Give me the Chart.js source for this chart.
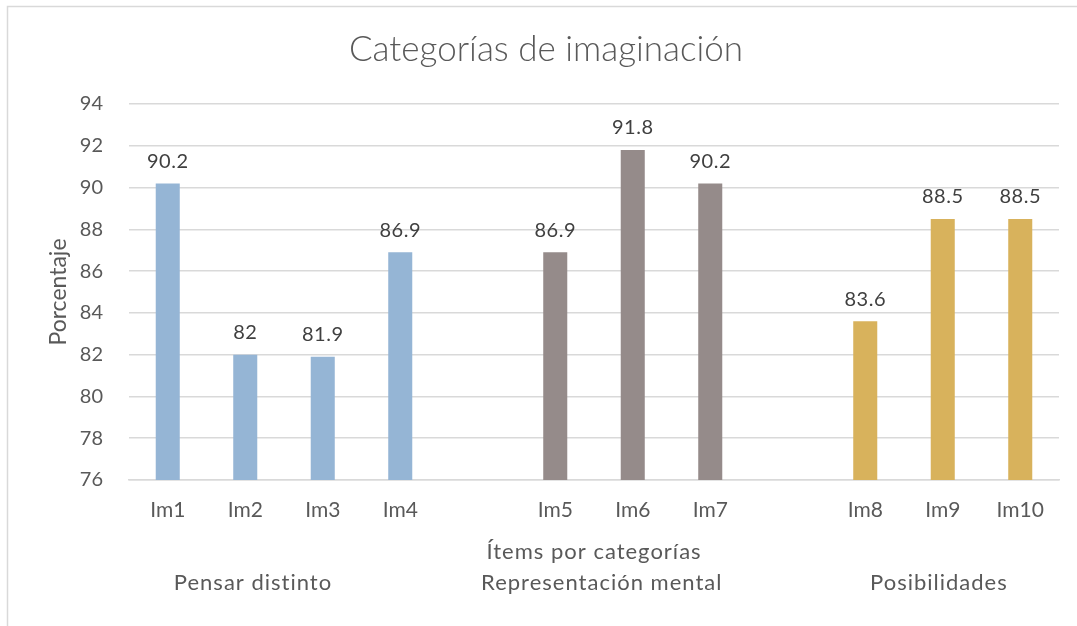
<!DOCTYPE html>
<html lang="es">
<head>
    <meta charset="UTF-8">
    <title>Categorías de imaginación</title>
    <script src="https://cdn.jsdelivr.net/npm/chart.js"></script>
    <style>
        html, body { margin: 0; padding: 0; background: #fff; overflow: hidden; }
        #wrap { width: 1077px; height: 626px; }
    </style>
</head>
<body>
    <div id="wrap">
        <canvas id="imaginacionChart" width="1077" height="626"></canvas>
    </div>

    <script>
        // items on the x axis, blank slots separate the three groups
        const items = ['Im1', 'Im2', 'Im3', 'Im4', '', 'Im5', 'Im6', 'Im7', '', 'Im8', 'Im9', 'Im10'];

        const pensarDistinto = [90.2, 82, 81.9, 86.9];
        const representacionMental = [86.9, 91.8, 90.2];
        const posibilidades = [83.6, 88.5, 88.5];

        const groupNames = ['Pensar distinto', 'Representación mental', 'Posibilidades'];
        // where each group name sits, in x-axis index units
        const groupAnchors = [1.1, 5.6, 9.95];

        const yMin = 76, yMax = 94, yStep = 2;

        const textColor = '#595959';
        const fontFamily = 'Lato, "Open Sans", sans-serif';

        // pad each group's values with nulls so they land on their own slots
        function placeAt(values, start) {
            const out = items.map(() => null);
            values.forEach((v, i) => { out[start + i] = v; });
            return out;
        }

        const valueLabels = {
            id: 'valueLabels',
            afterDatasetsDraw(chart) {
                const ctx = chart.ctx;
                ctx.save();
                ctx.fillStyle = '#404040';
                ctx.font = '20px ' + fontFamily;
                ctx.letterSpacing = '0.5px';
                ctx.textAlign = 'center';
                ctx.textBaseline = 'middle';
                chart.data.datasets.forEach((ds, di) => {
                    chart.getDatasetMeta(di).data.forEach((bar, i) => {
                        const v = ds.data[i];
                        if (v === null) return;
                        ctx.fillText(String(v), bar.x, bar.y - 22);
                    });
                });
                ctx.restore();
            }
        };

        const axisExtras = {
            id: 'axisExtras',
            beforeDraw(chart) {
                const ctx = chart.ctx;
                ctx.save();
                ctx.fillStyle = '#fff';
                ctx.fillRect(0, 0, chart.width, chart.height);
                ctx.strokeStyle = '#d9d9d9';
                ctx.lineWidth = 1.5;
                ctx.strokeRect(7.5, 6.5, chart.width + 20, chart.height + 20);
                ctx.restore();
            },
            afterDraw(chart) {
                const ctx = chart.ctx;
                const x = chart.scales.x;
                const area = chart.chartArea;
                ctx.save();
                ctx.fillStyle = textColor;
                ctx.font = '22px ' + fontFamily;
                ctx.letterSpacing = '1px';
                ctx.textAlign = 'center';
                ctx.textBaseline = 'middle';
                ctx.fillText('Ítems por categorías', (area.left + area.right) / 2, area.bottom + 72);
                groupNames.forEach((name, i) => {
                    ctx.fillText(name, x.getPixelForValue(groupAnchors[i]), area.bottom + 103);
                });
                ctx.restore();
            }
        };

        new Chart(document.getElementById('imaginacionChart'), {
            type: 'bar',
            data: {
                labels: items,
                datasets: [
                    { label: 'Pensar distinto', data: placeAt(pensarDistinto, 0), backgroundColor: '#95B5D5' },
                    { label: 'Representación mental', data: placeAt(representacionMental, 5), backgroundColor: '#958B8A' },
                    { label: 'Posibilidades', data: placeAt(posibilidades, 9), backgroundColor: '#D8B25C' }
                ]
            },
            options: {
                responsive: false,
                animation: false,
                devicePixelRatio: 1,
                layout: { padding: { left: 33, top: 0, right: 18, bottom: 0 } },
                datasets: {
                    bar: { skipNull: true, categoryPercentage: 1, barPercentage: 0.31 }
                },
                plugins: {
                    legend: { display: false },
                    tooltip: { enabled: false },
                    title: {
                        display: true,
                        text: 'Categorías de imaginación',
                        color: textColor,
                        font: { family: fontFamily, size: 35, weight: '300' },
                        padding: { top: 29, bottom: 33 }
                    }
                },
                scales: {
                    x: {
                        grid: { display: false, drawTicks: false },
                        border: { display: true, color: '#d9d9d9', width: 1.5 },
                        ticks: {
                            color: textColor,
                            font: { family: fontFamily, size: 21 },
                            padding: 18,
                            autoSkip: false,
                            maxRotation: 0
                        },
                        afterFit(scale) { scale.height = 146; }
                    },
                    y: {
                        min: yMin,
                        max: yMax,
                        grid: { color: '#d9d9d9', lineWidth: 1.5, drawTicks: false },
                        border: { display: false },
                        ticks: {
                            stepSize: yStep,
                            color: textColor,
                            font: { family: fontFamily, size: 20 },
                            padding: 26
                        },
                        title: {
                            display: true,
                            text: 'Porcentaje',
                            color: textColor,
                            font: { family: fontFamily, size: 23 },
                            padding: { top: 12, bottom: 0 }
                        },
                        afterFit(scale) { scale.width = 96; }
                    }
                }
            },
            plugins: [axisExtras, valueLabels]
        });
    </script>
</body>
</html>
